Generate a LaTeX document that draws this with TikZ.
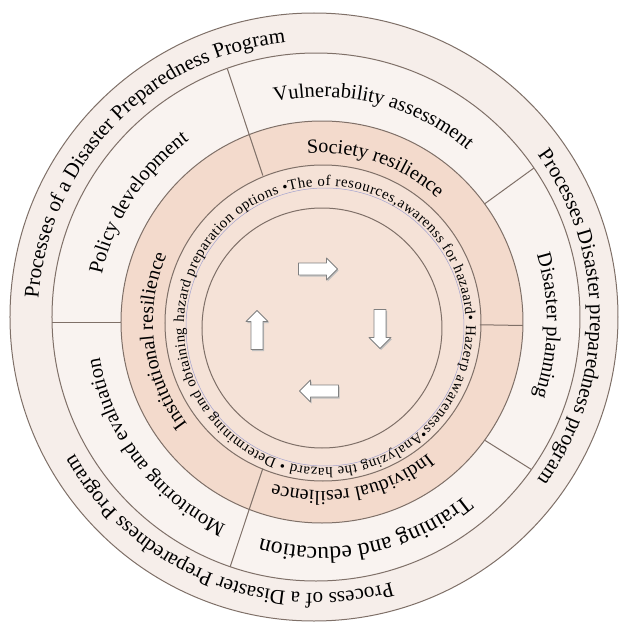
\documentclass[tikz,border=0pt]{standalone}
\usepackage{fontspec}
\setmainfont{Liberation Serif}
\usetikzlibrary{decorations.text,calc}

\definecolor{rimfill}{HTML}{F6EEEA}
\definecolor{segfill}{HTML}{F9F3F0}
\definecolor{bandfill}{HTML}{F3DACC}
\definecolor{corefill}{HTML}{F5E2D7}
\definecolor{ringline}{HTML}{7F7068}
\definecolor{guideline}{HTML}{A3A3CF}

\newcommand\dpRimFont{\fontsize{21}{25}\selectfont}
\newcommand\dpSegFont{\fontsize{20.5}{24}\selectfont}
\newcommand\dpBandFont{\fontsize{20}{24}\selectfont}
\newcommand\dpCoreFont{\fontsize{14.8}{18}\selectfont}

\begin{document}
\begin{tikzpicture}[x=1pt,y=1pt,
  ring/.style={draw=ringline, line width=1pt},
  divider/.style={draw=ringline, line width=1pt},
  blockarrow/.style={fill=white, draw=black!50, line width=0.8pt, line join=round},
  arrowshade/.style={fill=black!25},
  arctext/.style={decorate, decoration={text along path, text align=center, text={#1}}},
  fittext/.style={decorate, decoration={text along path, text align={fit to path}, text={#1}}}]
\useasboundingbox (-322,-300) rectangle (300,322);

% centres of the rings
\coordinate (cO)  at (-8,5);
\coordinate (cR2) at (-6,5);
\coordinate (cR3) at (0,0);
\coordinate (cR4) at (1,-1);
\coordinate (cB)  at (3,-5);
\coordinate (cI)  at (0,-6);

% filled discs, outermost first
\fill[rimfill]  (cO)  circle (304);
\fill[segfill]  (cR2) circle (264);
\fill[bandfill] (cR3) circle (201);
\fill[corefill] (cR4) circle (158);

% segment dividers
\begin{scope}
  \clip (cR2) circle (264);
  \draw[divider] (112:158)  -- (110.5:270);
  \draw[divider] (-112:158) -- (-110.5:270);
  \draw[divider] (36:201)   -- (36:270);
  \draw[divider] (-36:201)  -- (-35:270);
  \draw[divider] (180:201)  -- (180:270);
\end{scope}
\draw[divider] (-1:158) -- (-1:201);

% ring outlines
\draw[ring] (cO)  circle (304);
\draw[ring] (cR2) circle (264);
\draw[ring] (cR3) circle (201);
\draw[ring] (cR4) circle (158);
\draw[ring] (cI)  circle (120);
\draw[guideline, line width=0.5pt] (cB) circle (139);

% outer band
\path[arctext={|\dpRimFont|Processes of a Disaster Preparedness Program}]
  ([shift={(-8,5)}]196:276) arc[start angle=196, end angle=76, radius=276];
\path[arctext={|\dpRimFont|Processes Disaster preparedness program}]
  ([shift={(-8,5)}]60:276) arc[start angle=60, end angle=-60, radius=276];
\path[arctext={|\dpRimFont|Process of a Disaster Preparedness Program}]
  ([shift={(-8,5)}]-52:276) arc[start angle=-52, end angle=-172, radius=276];

% segment ring
\path[arctext={|\dpSegFont|Vulnerability assessment}]
  (136:225) arc[start angle=136, end angle=16, radius=225];
\path[arctext={|\dpSegFont|Policy development}]
  (207:225) arc[start angle=207, end angle=87, radius=225];
\path[arctext={|\dpSegFont|Disaster planning}]
  (59:225) arc[start angle=59, end angle=-61, radius=225];
\path[arctext={|\fontsize{23.5}{27}\selectfont|Training and education}]
  (-18:225) arc[start angle=-18, end angle=-138, radius=225];
\path[arctext={|\dpSegFont|Monitoring and evaluation}]
  (-83:225) arc[start angle=-83, end angle=-203, radius=225];

% resilience band
\path[arctext={|\dpBandFont|Society resilience}]
  (131:169) arc[start angle=131, end angle=11, radius=169];
\path[arctext={|\dpBandFont|Individual resilience}]
  (-19:169) arc[start angle=-19, end angle=-139, radius=169];
\path[arctext={|\dpBandFont|Institutional resilience}]
  (247:169) arc[start angle=247, end angle=127, radius=169];

% hazard steps around the guide circle
\path[fittext={|\dpCoreFont|•The of resources,awarenss for hazaard• Hazerp awareness•Analyzing the hazard • Determining and obtaining hazard preparation options}]
  ([shift={(3,-5)}]107:141) arc[start angle=107, end angle=-251, radius=141];

% cycle arrows, each with a soft grey shadow underneath
\foreach \ax/\ay/\ar in {-4/53/0, 58/-7/-90, -3/-69/180, -65/-8/90}{
  \fill[arrowshade, shift={(\ax+1.2,\ay-1.5)}, rotate=\ar]
    (-19.5,-6) -- (8.5,-6) -- (8.5,-11) -- (19.5,0) -- (8.5,11) -- (8.5,6) -- (-19.5,6) -- cycle;
  \draw[blockarrow, shift={(\ax,\ay)}, rotate=\ar]
    (-19.5,-6) -- (8.5,-6) -- (8.5,-11) -- (19.5,0) -- (8.5,11) -- (8.5,6) -- (-19.5,6) -- cycle;
}
\end{tikzpicture}
\end{document}
